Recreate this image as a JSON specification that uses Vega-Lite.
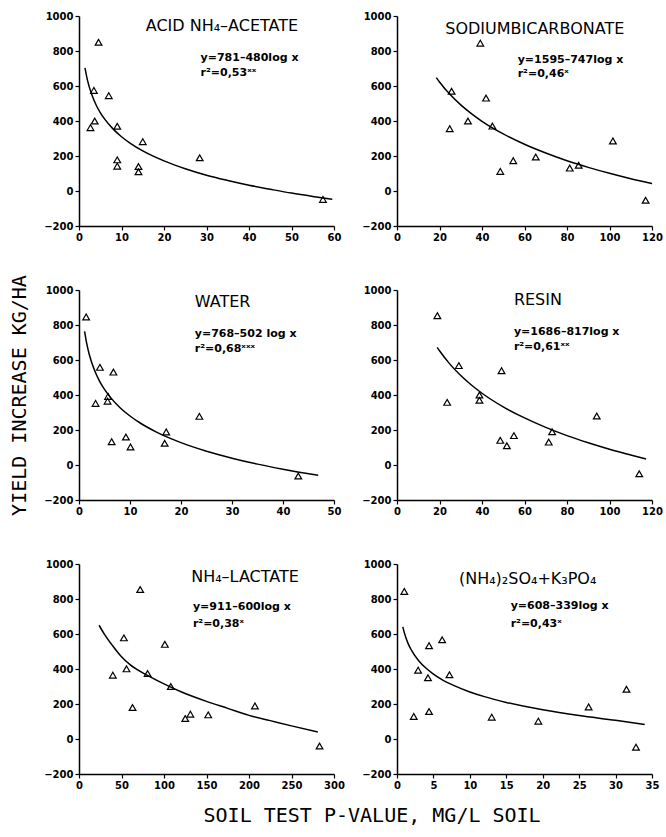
{
  "$schema": "https://vega.github.io/schema/vega-lite/v6.json",
  "padding": {"left": 9, "top": 11, "right": 5, "bottom": 5},
  "background": "white",
  "datasets": {
    "pts": [
      {"p": "acetate", "x": 4.6, "y": 850}, {"p": "acetate", "x": 3.5, "y": 575}, {"p": "acetate", "x": 7, "y": 545},
      {"p": "acetate", "x": 3.7, "y": 400}, {"p": "acetate", "x": 2.7, "y": 362}, {"p": "acetate", "x": 9, "y": 370},
      {"p": "acetate", "x": 15, "y": 282}, {"p": "acetate", "x": 28.4, "y": 190}, {"p": "acetate", "x": 9, "y": 178},
      {"p": "acetate", "x": 9, "y": 142}, {"p": "acetate", "x": 14, "y": 140}, {"p": "acetate", "x": 14, "y": 110},
      {"p": "acetate", "x": 57.4, "y": -48},
      {"p": "bicarb", "x": 39.2, "y": 845}, {"p": "bicarb", "x": 25.7, "y": 570}, {"p": "bicarb", "x": 41.9, "y": 531},
      {"p": "bicarb", "x": 33.4, "y": 400}, {"p": "bicarb", "x": 24.8, "y": 356}, {"p": "bicarb", "x": 44.9, "y": 371},
      {"p": "bicarb", "x": 101.6, "y": 286}, {"p": "bicarb", "x": 65.3, "y": 194}, {"p": "bicarb", "x": 54.7, "y": 173},
      {"p": "bicarb", "x": 48.6, "y": 112}, {"p": "bicarb", "x": 81.3, "y": 131}, {"p": "bicarb", "x": 85.5, "y": 147},
      {"p": "bicarb", "x": 117, "y": -53},
      {"p": "water", "x": 1.4, "y": 846}, {"p": "water", "x": 4.1, "y": 558}, {"p": "water", "x": 6.75, "y": 531},
      {"p": "water", "x": 5.7, "y": 392}, {"p": "water", "x": 5.6, "y": 365}, {"p": "water", "x": 3.25, "y": 352},
      {"p": "water", "x": 6.4, "y": 133}, {"p": "water", "x": 9.2, "y": 160}, {"p": "water", "x": 10.1, "y": 103},
      {"p": "water", "x": 17.1, "y": 189}, {"p": "water", "x": 16.8, "y": 124}, {"p": "water", "x": 23.6, "y": 278},
      {"p": "water", "x": 43, "y": -63},
      {"p": "resin", "x": 19, "y": 853}, {"p": "resin", "x": 23.6, "y": 358}, {"p": "resin", "x": 29.1, "y": 568},
      {"p": "resin", "x": 38.8, "y": 400}, {"p": "resin", "x": 38.8, "y": 370}, {"p": "resin", "x": 49.2, "y": 539},
      {"p": "resin", "x": 48.6, "y": 141}, {"p": "resin", "x": 51.7, "y": 110}, {"p": "resin", "x": 55, "y": 168},
      {"p": "resin", "x": 71.4, "y": 131}, {"p": "resin", "x": 73, "y": 190}, {"p": "resin", "x": 94, "y": 280},
      {"p": "resin", "x": 114, "y": -50},
      {"p": "lactate", "x": 72, "y": 854}, {"p": "lactate", "x": 52.8, "y": 578}, {"p": "lactate", "x": 101, "y": 541},
      {"p": "lactate", "x": 55.9, "y": 401}, {"p": "lactate", "x": 39.8, "y": 365}, {"p": "lactate", "x": 80.7, "y": 374},
      {"p": "lactate", "x": 108, "y": 300}, {"p": "lactate", "x": 63, "y": 180}, {"p": "lactate", "x": 207, "y": 189},
      {"p": "lactate", "x": 125, "y": 117}, {"p": "lactate", "x": 131, "y": 142}, {"p": "lactate", "x": 152, "y": 138},
      {"p": "lactate", "x": 283, "y": -40},
      {"p": "sulfate", "x": 1.0, "y": 843}, {"p": "sulfate", "x": 2.9, "y": 393}, {"p": "sulfate", "x": 2.3, "y": 129},
      {"p": "sulfate", "x": 4.4, "y": 533}, {"p": "sulfate", "x": 6.2, "y": 567}, {"p": "sulfate", "x": 4.25, "y": 350},
      {"p": "sulfate", "x": 4.4, "y": 157}, {"p": "sulfate", "x": 7.2, "y": 367}, {"p": "sulfate", "x": 13, "y": 125},
      {"p": "sulfate", "x": 19.4, "y": 102}, {"p": "sulfate", "x": 26.3, "y": 183}, {"p": "sulfate", "x": 31.5, "y": 284},
      {"p": "sulfate", "x": 32.8, "y": -47}
    ],
    "curve": [
      {"p": "acetate", "x": 1.4, "y": 703}, {"p": "acetate", "x": 2, "y": 632}, {"p": "acetate", "x": 3, "y": 551},
      {"p": "acetate", "x": 4, "y": 493}, {"p": "acetate", "x": 5, "y": 448}, {"p": "acetate", "x": 6, "y": 412},
      {"p": "acetate", "x": 8, "y": 355}, {"p": "acetate", "x": 10, "y": 310}, {"p": "acetate", "x": 12, "y": 274},
      {"p": "acetate", "x": 15, "y": 229}, {"p": "acetate", "x": 20, "y": 172}, {"p": "acetate", "x": 25, "y": 127},
      {"p": "acetate", "x": 30, "y": 90}, {"p": "acetate", "x": 35, "y": 60}, {"p": "acetate", "x": 40, "y": 33},
      {"p": "acetate", "x": 45, "y": 10}, {"p": "acetate", "x": 50, "y": -12}, {"p": "acetate", "x": 55, "y": -31},
      {"p": "acetate", "x": 59.6, "y": -47},
      {"p": "bicarb", "x": 18.5, "y": 648}, {"p": "bicarb", "x": 20, "y": 623}, {"p": "bicarb", "x": 25, "y": 551},
      {"p": "bicarb", "x": 30, "y": 492}, {"p": "bicarb", "x": 35, "y": 442}, {"p": "bicarb", "x": 40, "y": 398},
      {"p": "bicarb", "x": 50, "y": 326}, {"p": "bicarb", "x": 60, "y": 267}, {"p": "bicarb", "x": 70, "y": 217},
      {"p": "bicarb", "x": 80, "y": 173}, {"p": "bicarb", "x": 90, "y": 135}, {"p": "bicarb", "x": 100, "y": 101},
      {"p": "bicarb", "x": 110, "y": 70}, {"p": "bicarb", "x": 120, "y": 42},
      {"p": "water", "x": 1.1, "y": 764}, {"p": "water", "x": 1.5, "y": 696}, {"p": "water", "x": 2, "y": 633},
      {"p": "water", "x": 3, "y": 544}, {"p": "water", "x": 4, "y": 481}, {"p": "water", "x": 5, "y": 432},
      {"p": "water", "x": 6, "y": 392}, {"p": "water", "x": 8, "y": 329}, {"p": "water", "x": 10, "y": 280},
      {"p": "water", "x": 12, "y": 240}, {"p": "water", "x": 15, "y": 191}, {"p": "water", "x": 20, "y": 128},
      {"p": "water", "x": 25, "y": 79}, {"p": "water", "x": 30, "y": 39}, {"p": "water", "x": 35, "y": 5},
      {"p": "water", "x": 40, "y": -24}, {"p": "water", "x": 46.9, "y": -59},
      {"p": "resin", "x": 18.9, "y": 672}, {"p": "resin", "x": 20, "y": 653}, {"p": "resin", "x": 25, "y": 575},
      {"p": "resin", "x": 30, "y": 511}, {"p": "resin", "x": 35, "y": 457}, {"p": "resin", "x": 40, "y": 410},
      {"p": "resin", "x": 50, "y": 332}, {"p": "resin", "x": 60, "y": 269}, {"p": "resin", "x": 70, "y": 215},
      {"p": "resin", "x": 80, "y": 168}, {"p": "resin", "x": 90, "y": 127}, {"p": "resin", "x": 100, "y": 90},
      {"p": "resin", "x": 110, "y": 57}, {"p": "resin", "x": 117.2, "y": 34},
      {"p": "lactate", "x": 23.6, "y": 650}, {"p": "lactate", "x": 30, "y": 598}, {"p": "lactate", "x": 40, "y": 530},
      {"p": "lactate", "x": 50, "y": 470}, {"p": "lactate", "x": 60, "y": 425}, {"p": "lactate", "x": 80, "y": 365},
      {"p": "lactate", "x": 100, "y": 315}, {"p": "lactate", "x": 120, "y": 270}, {"p": "lactate", "x": 150, "y": 215},
      {"p": "lactate", "x": 175, "y": 175}, {"p": "lactate", "x": 200, "y": 135}, {"p": "lactate", "x": 225, "y": 105},
      {"p": "lactate", "x": 250, "y": 75}, {"p": "lactate", "x": 281, "y": 40},
      {"p": "sulfate", "x": 0.8, "y": 641}, {"p": "sulfate", "x": 1, "y": 608}, {"p": "sulfate", "x": 1.5, "y": 548},
      {"p": "sulfate", "x": 2, "y": 506}, {"p": "sulfate", "x": 3, "y": 446}, {"p": "sulfate", "x": 4, "y": 404},
      {"p": "sulfate", "x": 5, "y": 371}, {"p": "sulfate", "x": 6, "y": 344}, {"p": "sulfate", "x": 8, "y": 302},
      {"p": "sulfate", "x": 10, "y": 269}, {"p": "sulfate", "x": 12, "y": 242}, {"p": "sulfate", "x": 15, "y": 209},
      {"p": "sulfate", "x": 20, "y": 167}, {"p": "sulfate", "x": 25, "y": 134}, {"p": "sulfate", "x": 30, "y": 107},
      {"p": "sulfate", "x": 34, "y": 83}
    ],
    "labels": [
      {"p": "acetate", "k": "title", "x": 15.7, "y": 942, "t": "ACID NH₄–ACETATE"},
      {"p": "acetate", "k": "eq", "x": 28.6, "y": 760, "t": "y=781–480log x"},
      {"p": "acetate", "k": "eq", "x": 28.6, "y": 674, "t": "r²=0,53ˣˣ"},
      {"p": "bicarb", "k": "title", "x": 22.7, "y": 924, "t": "SODIUMBICARBONATE"},
      {"p": "bicarb", "k": "eq", "x": 56.8, "y": 747, "t": "y=1595–747log x"},
      {"p": "bicarb", "k": "eq", "x": 56.8, "y": 667, "t": "r²=0,46ˣ"},
      {"p": "water", "k": "title", "x": 22.7, "y": 933, "t": "WATER"},
      {"p": "water", "k": "eq", "x": 22.7, "y": 750, "t": "y=768–502 log x"},
      {"p": "water", "k": "eq", "x": 22.7, "y": 661, "t": "r²=0,68ˣˣˣ"},
      {"p": "resin", "k": "title", "x": 55, "y": 943, "t": "RESIN"},
      {"p": "resin", "k": "eq", "x": 55, "y": 762, "t": "y=1686–817log x"},
      {"p": "resin", "k": "eq", "x": 55, "y": 672, "t": "r²=0,61ˣˣ"},
      {"p": "lactate", "k": "title", "x": 132, "y": 928, "t": "NH₄–LACTATE"},
      {"p": "lactate", "k": "eq", "x": 134, "y": 754, "t": "y=911–600log x"},
      {"p": "lactate", "k": "eq", "x": 134, "y": 656, "t": "r²=0,38ˣ"},
      {"p": "sulfate", "k": "title", "x": 8.5, "y": 915, "t": "(NH₄)₂SO₄+K₃PO₄"},
      {"p": "sulfate", "k": "eq", "x": 15.6, "y": 758, "t": "y=608–339log x"},
      {"p": "sulfate", "k": "eq", "x": 15.6, "y": 660, "t": "r²=0,43ˣ"}
    ]
  },
  "title": {"text": "SOIL TEST P-VALUE, MG/L SOIL", "orient": "bottom", "anchor": "middle", "fontSize": 20, "fontWeight": "normal", "font": "DejaVu Sans Mono", "color": "black", "offset": 16, "dx": 36},
  "columns": 2,
  "spacing": {"row": 64, "column": 63},
  "bounds": "flush",
  "concat": [
    {
      "width": 255, "height": 210,
      "encoding": {
        "x": {"field": "x", "type": "quantitative", "scale": {"domain": [0, 60]}, "axis": {"values": [0, 10, 20, 30, 40, 50, 60], "title": null}},
        "y": {"field": "y", "type": "quantitative", "scale": {"domain": [-200, 1000]}, "axis": {"values": [-200, 0, 200, 400, 600, 800, 1000], "format": "d", "title": null}}
      },
      "layer": [
        {"data": {"name": "curve"}, "transform": [{"filter": "datum.p == 'acetate'"}], "mark": {"type": "line", "color": "black", "strokeWidth": 1.5, "interpolate": "monotone"}},
        {"data": {"name": "pts"}, "transform": [{"filter": "datum.p == 'acetate'"}], "mark": {"type": "point", "shape": "triangle-up", "size": 45, "filled": false, "color": "black", "strokeWidth": 1.2, "opacity": 1}},
        {"data": {"name": "labels"}, "transform": [{"filter": "datum.p == 'acetate' && datum.k == 'title'"}], "mark": {"type": "text", "align": "left", "baseline": "middle", "fontSize": 16, "color": "black"}, "encoding": {"text": {"field": "t"}}},
        {"data": {"name": "labels"}, "transform": [{"filter": "datum.p == 'acetate' && datum.k == 'eq'"}], "mark": {"type": "text", "align": "left", "baseline": "middle", "fontSize": 11, "fontWeight": "bold", "color": "black"}, "encoding": {"text": {"field": "t"}}}
      ]
    },
    {
      "width": 255, "height": 210,
      "encoding": {
        "x": {"field": "x", "type": "quantitative", "scale": {"domain": [0, 120]}, "axis": {"values": [0, 20, 40, 60, 80, 100, 120], "title": null}},
        "y": {"field": "y", "type": "quantitative", "scale": {"domain": [-200, 1000]}, "axis": {"values": [-200, 0, 200, 400, 600, 800, 1000], "format": "d", "title": null}}
      },
      "layer": [
        {"data": {"name": "curve"}, "transform": [{"filter": "datum.p == 'bicarb'"}], "mark": {"type": "line", "color": "black", "strokeWidth": 1.5, "interpolate": "monotone"}},
        {"data": {"name": "pts"}, "transform": [{"filter": "datum.p == 'bicarb'"}], "mark": {"type": "point", "shape": "triangle-up", "size": 45, "filled": false, "color": "black", "strokeWidth": 1.2, "opacity": 1}},
        {"data": {"name": "labels"}, "transform": [{"filter": "datum.p == 'bicarb' && datum.k == 'title'"}], "mark": {"type": "text", "align": "left", "baseline": "middle", "fontSize": 16, "color": "black"}, "encoding": {"text": {"field": "t"}}},
        {"data": {"name": "labels"}, "transform": [{"filter": "datum.p == 'bicarb' && datum.k == 'eq'"}], "mark": {"type": "text", "align": "left", "baseline": "middle", "fontSize": 11, "fontWeight": "bold", "color": "black"}, "encoding": {"text": {"field": "t"}}}
      ]
    },
    {
      "width": 255, "height": 210,
      "encoding": {
        "x": {"field": "x", "type": "quantitative", "scale": {"domain": [0, 50]}, "axis": {"values": [0, 10, 20, 30, 40, 50], "title": null}},
        "y": {"field": "y", "type": "quantitative", "scale": {"domain": [-200, 1000]}, "axis": {"values": [-200, 0, 200, 400, 600, 800, 1000], "format": "d", "title": "YIELD INCREASE KG/HA", "titleFont": "DejaVu Sans Mono", "titleFontSize": 20, "titleFontWeight": "normal", "titlePadding": 14}}
      },
      "layer": [
        {"data": {"name": "curve"}, "transform": [{"filter": "datum.p == 'water'"}], "mark": {"type": "line", "color": "black", "strokeWidth": 1.5, "interpolate": "monotone"}},
        {"data": {"name": "pts"}, "transform": [{"filter": "datum.p == 'water'"}], "mark": {"type": "point", "shape": "triangle-up", "size": 45, "filled": false, "color": "black", "strokeWidth": 1.2, "opacity": 1}},
        {"data": {"name": "labels"}, "transform": [{"filter": "datum.p == 'water' && datum.k == 'title'"}], "mark": {"type": "text", "align": "left", "baseline": "middle", "fontSize": 16, "color": "black"}, "encoding": {"text": {"field": "t"}}},
        {"data": {"name": "labels"}, "transform": [{"filter": "datum.p == 'water' && datum.k == 'eq'"}], "mark": {"type": "text", "align": "left", "baseline": "middle", "fontSize": 11, "fontWeight": "bold", "color": "black"}, "encoding": {"text": {"field": "t"}}}
      ]
    },
    {
      "width": 255, "height": 210,
      "encoding": {
        "x": {"field": "x", "type": "quantitative", "scale": {"domain": [0, 120]}, "axis": {"values": [0, 20, 40, 60, 80, 100, 120], "title": null}},
        "y": {"field": "y", "type": "quantitative", "scale": {"domain": [-200, 1000]}, "axis": {"values": [-200, 0, 200, 400, 600, 800, 1000], "format": "d", "title": null}}
      },
      "layer": [
        {"data": {"name": "curve"}, "transform": [{"filter": "datum.p == 'resin'"}], "mark": {"type": "line", "color": "black", "strokeWidth": 1.5, "interpolate": "monotone"}},
        {"data": {"name": "pts"}, "transform": [{"filter": "datum.p == 'resin'"}], "mark": {"type": "point", "shape": "triangle-up", "size": 45, "filled": false, "color": "black", "strokeWidth": 1.2, "opacity": 1}},
        {"data": {"name": "labels"}, "transform": [{"filter": "datum.p == 'resin' && datum.k == 'title'"}], "mark": {"type": "text", "align": "left", "baseline": "middle", "fontSize": 16, "color": "black"}, "encoding": {"text": {"field": "t"}}},
        {"data": {"name": "labels"}, "transform": [{"filter": "datum.p == 'resin' && datum.k == 'eq'"}], "mark": {"type": "text", "align": "left", "baseline": "middle", "fontSize": 11, "fontWeight": "bold", "color": "black"}, "encoding": {"text": {"field": "t"}}}
      ]
    },
    {
      "width": 255, "height": 210,
      "encoding": {
        "x": {"field": "x", "type": "quantitative", "scale": {"domain": [0, 300]}, "axis": {"values": [0, 50, 100, 150, 200, 250, 300], "title": null}},
        "y": {"field": "y", "type": "quantitative", "scale": {"domain": [-200, 1000]}, "axis": {"values": [-200, 0, 200, 400, 600, 800, 1000], "format": "d", "title": null}}
      },
      "layer": [
        {"data": {"name": "curve"}, "transform": [{"filter": "datum.p == 'lactate'"}], "mark": {"type": "line", "color": "black", "strokeWidth": 1.5, "interpolate": "monotone"}},
        {"data": {"name": "pts"}, "transform": [{"filter": "datum.p == 'lactate'"}], "mark": {"type": "point", "shape": "triangle-up", "size": 45, "filled": false, "color": "black", "strokeWidth": 1.2, "opacity": 1}},
        {"data": {"name": "labels"}, "transform": [{"filter": "datum.p == 'lactate' && datum.k == 'title'"}], "mark": {"type": "text", "align": "left", "baseline": "middle", "fontSize": 16, "color": "black"}, "encoding": {"text": {"field": "t"}}},
        {"data": {"name": "labels"}, "transform": [{"filter": "datum.p == 'lactate' && datum.k == 'eq'"}], "mark": {"type": "text", "align": "left", "baseline": "middle", "fontSize": 11, "fontWeight": "bold", "color": "black"}, "encoding": {"text": {"field": "t"}}}
      ]
    },
    {
      "width": 255, "height": 210,
      "encoding": {
        "x": {"field": "x", "type": "quantitative", "scale": {"domain": [0, 35]}, "axis": {"values": [0, 5, 10, 15, 20, 25, 30, 35], "title": null}},
        "y": {"field": "y", "type": "quantitative", "scale": {"domain": [-200, 1000]}, "axis": {"values": [-200, 0, 200, 400, 600, 800, 1000], "format": "d", "title": null}}
      },
      "layer": [
        {"data": {"name": "curve"}, "transform": [{"filter": "datum.p == 'sulfate'"}], "mark": {"type": "line", "color": "black", "strokeWidth": 1.5, "interpolate": "monotone"}},
        {"data": {"name": "pts"}, "transform": [{"filter": "datum.p == 'sulfate'"}], "mark": {"type": "point", "shape": "triangle-up", "size": 45, "filled": false, "color": "black", "strokeWidth": 1.2, "opacity": 1}},
        {"data": {"name": "labels"}, "transform": [{"filter": "datum.p == 'sulfate' && datum.k == 'title'"}], "mark": {"type": "text", "align": "left", "baseline": "middle", "fontSize": 16, "color": "black"}, "encoding": {"text": {"field": "t"}}},
        {"data": {"name": "labels"}, "transform": [{"filter": "datum.p == 'sulfate' && datum.k == 'eq'"}], "mark": {"type": "text", "align": "left", "baseline": "middle", "fontSize": 11, "fontWeight": "bold", "color": "black"}, "encoding": {"text": {"field": "t"}}}
      ]
    }
  ],
  "config": {
    "font": "DejaVu Sans",
    "view": {"stroke": null},
    "axis": {
      "grid": false,
      "labelFont": "DejaVu Sans",
      "labelFontSize": 10,
      "labelFontWeight": "bold",
      "labelColor": "black",
      "titleFont": "DejaVu Sans",
      "titleColor": "black",
      "domainColor": "black",
      "domainWidth": 1.5,
      "tickColor": "black",
      "tickWidth": 1.2,
      "tickSize": 4,
      "labelPadding": 2
    },
    "axisX": {"labelFlush": false},
    "axisY": {"labelFlush": false}
  }
}
